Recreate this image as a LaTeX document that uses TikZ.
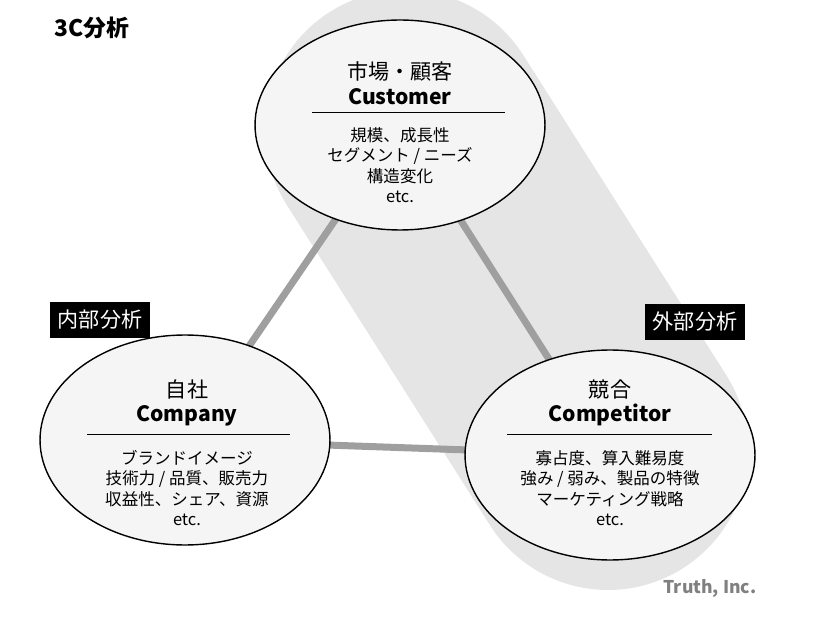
\documentclass[tikz,border=0pt]{standalone}
\usepackage{fontspec}
\setmainfont{Noto Sans CJK JP}
\usetikzlibrary{positioning,shapes}

\begin{document}
\begin{tikzpicture}[x=0.02cm,y=-0.02cm,
  circ/.style = {draw, thick, ellipse, fill=gray!8, minimum width=5.8cm, minimum height=4.2cm},
  link/.style = {line width=7*0.02cm, draw=gray!75},
  tag/.style = {fill=black, text=white, font=\fontsize{12}{14}\selectfont, inner sep=4.5pt},
  ttl/.style = {font=\fontsize{12}{14}\selectfont, align=center},
  body/.style = {font=\fontsize{9.4}{11.6}\selectfont, align=center}]
  \useasboundingbox (0,0) rectangle (828,621);

  % outer band
  \draw[line width=5.6cm, line cap=round, gray!20] (405,130) -- (608,450);

  \coordinate (cu) at (400,125);
  \coordinate (co) at (185,440);
  \coordinate (cp) at (610,455);
  \draw[link] (cu) -- (co) -- (cp) -- cycle;

  \node[circ] (cust) at (cu) {};
  \node[circ] (comp) at (co) {};
  \node[circ] (compt) at (cp) {};

  \node[ttl] (t1) at (400,83) {市場・顧客\\\textbf{Customer}};
  \draw (312,112) -- (505,112);
  \node[body] (b1) at (400,165) {規模、成長性\\セグメント / ニーズ\\構造変化\\etc.};

  \node[ttl] (t2) at (187,403) {自社\\\textbf{Company}};
  \draw (87,434) -- (290,434);
  \node[body] (b2) at (187,488) {ブランドイメージ\\技術力 / 品質、販売力\\収益性、シェア、資源\\etc.};

  \node[ttl] (t3) at (610,403) {競合\\\textbf{Competitor}};
  \draw (507,434) -- (712,434);
  \node[body] (b3) at (610,488) {寡占度、算入難易度\\強み / 弱み、製品の特徴\\マーケティング戦略\\etc.};

  \node[tag] (in) at (100,320) {内部分析};
  \node[tag] (out) at (695,322) {外部分析};
  \node[font=\fontsize{13}{15}\selectfont\bfseries] (head) at (92,28) {3C分析};
  \node[font=\fontsize{10}{12}\selectfont\bfseries, text=gray] (brand) at (710,588) {Truth, Inc.};
\end{tikzpicture}
\end{document}
